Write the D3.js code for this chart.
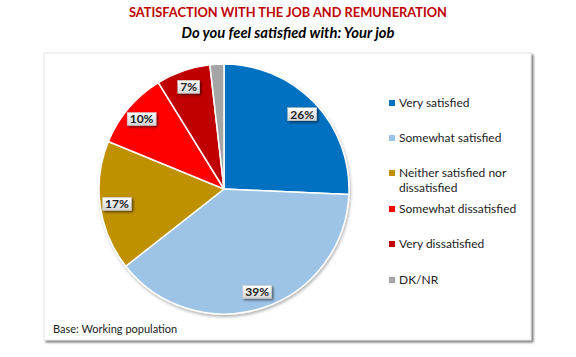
<!DOCTYPE html>
<html><head><meta charset="utf-8">
<script src="https://cdn.jsdelivr.net/npm/d3@7"></script>
<style>body{margin:0;background:#fff;}svg{display:block;}</style>
</head><body>
<svg id="c" width="576" height="357"></svg>
<script>
const categories = ["Very satisfied","Somewhat satisfied","Neither satisfied nor dissatisfied","Somewhat dissatisfied","Very dissatisfied","DK/NR"];
const legendLines = [["Very satisfied"],["Somewhat satisfied"],["Neither satisfied nor","dissatisfied"],["Somewhat dissatisfied"],["Very dissatisfied"],["DK/NR"]];
const values = [25.7, 38.7, 16.8, 10.0, 7.0, 1.8];
const labels = ["26%","39%","17%","10%","7%",""];
const colors = ["#0070C0","#9DC3E6","#BF9000","#FF0000","#C00000","#A5A5A5"];
const title = "SATISFACTION WITH THE JOB AND REMUNERATION";
const subtitle = "Do you feel satisfied with: Your job";
const footer = "Base: Working population";

const svg = d3.select("#c");
const W = 576;
const font = "Lato, 'Liberation Sans', sans-serif";

const defs = svg.append("defs");
const sh = defs.append("filter").attr("id","boxsh").attr("x","-5%").attr("y","-5%").attr("width","115%").attr("height","115%");
sh.append("feDropShadow").attr("dx",2).attr("dy",2).attr("stdDeviation",1).attr("flood-color","#555").attr("flood-opacity",0.8);
const lsh = defs.append("filter").attr("id","lblsh").attr("x","-30%").attr("y","-30%").attr("width","170%").attr("height","170%");
lsh.append("feDropShadow").attr("dx",1.5).attr("dy",1.5).attr("stdDeviation",0.8).attr("flood-color","#000").attr("flood-opacity",0.55);
const psh = defs.append("filter").attr("id","piesh").attr("x","-10%").attr("y","-10%").attr("width","125%").attr("height","125%");
psh.append("feDropShadow").attr("dx",1).attr("dy",2).attr("stdDeviation",1.5).attr("flood-color","#000").attr("flood-opacity",0.3);
const grad = defs.append("linearGradient").attr("id","lblg").attr("x1",0).attr("y1",0).attr("x2",0).attr("y2",1);
grad.append("stop").attr("offset","0%").attr("stop-color","#ffffff");
grad.append("stop").attr("offset","100%").attr("stop-color","#d4d4d4");

// titles
svg.append("text").attr("x",W/2).attr("y",17).attr("text-anchor","middle")
  .attr("font-family",font).attr("font-weight","bold").attr("font-size",14).attr("fill","#C00000")
  .attr("textLength",318).attr("lengthAdjust","spacingAndGlyphs").text(title);
svg.append("text").attr("x",W/2).attr("y",38).attr("text-anchor","middle")
  .attr("font-family",font).attr("font-weight","bold").attr("font-style","italic").attr("font-size",14.5).attr("fill","#000")
  .attr("textLength",213).attr("lengthAdjust","spacingAndGlyphs").text(subtitle);

// chart box
svg.append("rect").attr("x",44).attr("y",53).attr("width",487).attr("height",287)
  .attr("fill","#fff").attr("stroke","#e6e6e6").attr("stroke-width",1).attr("filter","url(#boxsh)");

// pie
const cx = 224, cy = 189, R = 125;
const pie = d3.pie().sort(null).value(d => d)(values);
const arc = d3.arc().innerRadius(0).outerRadius(R);
const labelArc = d3.arc().innerRadius(R*0.865).outerRadius(R*0.865);
const g = svg.append("g").attr("transform",`translate(${cx},${cy})`);
g.append("g").attr("filter","url(#piesh)").selectAll("path").data(pie).join("path")
  .attr("d",arc).attr("fill",(d,i)=>colors[i]).attr("stroke","#fff").attr("stroke-width",1.5);

const lg = g.selectAll("g.lbl").data(pie.filter((d,i)=>labels[i])).join("g").attr("class","lbl")
  .attr("transform",d=>`translate(${labelArc.centroid(d)})`);
lg.each(function(d){
  const s = d3.select(this);
  const t = s.append("text").attr("text-anchor","middle").attr("dy","0.36em")
    .attr("font-family",font).attr("font-weight","bold").attr("font-size",12).attr("fill","#222")
    .text(labels[d.index]);
  const bb = t.node().getBBox();
  s.insert("rect","text").attr("x",bb.x-2.5).attr("y",-6.5).attr("width",bb.width+5).attr("height",13)
    .attr("fill","url(#lblg)").attr("stroke","#c8c8c8").attr("stroke-width",0.5).attr("filter","url(#lblsh)");
});

// legend
const legY = [103,138,173,209,244,280];
const leg = svg.append("g");
legendLines.forEach((lines,i)=>{
  leg.append("rect").attr("x",389).attr("y",legY[i]-3).attr("width",6).attr("height",6).attr("fill",colors[i]);
  lines.forEach((ln,j)=>{
    leg.append("text").attr("x",399).attr("y",legY[i]+j*15).attr("dy","0.35em")
      .attr("font-family",font).attr("font-size",12).attr("fill","#222").text(ln);
  });
});

// footer
svg.append("text").attr("x",53).attr("y",329).attr("dy","0.35em")
  .attr("font-family",font).attr("font-size",11).attr("fill","#222").text(footer);
</script>
</body></html>
